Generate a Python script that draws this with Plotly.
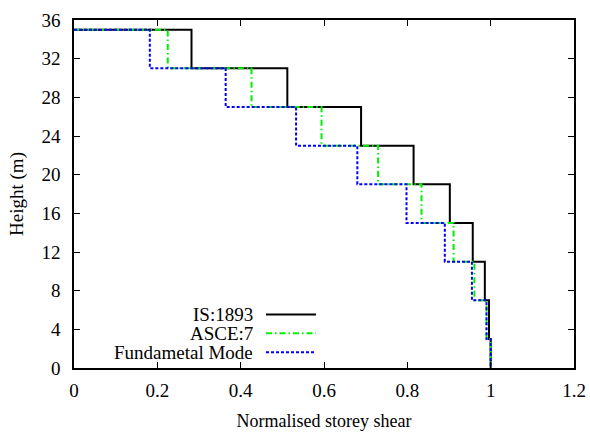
import plotly.graph_objects as go

# Storey levels (m), from roof down to base
heights = [35, 31, 27, 23, 19, 15, 11, 7, 3, 0]

# Normalised storey shear in each storey, top storey first
is1893 = [0.282, 0.512, 0.689, 0.815, 0.902, 0.957, 0.986, 0.996, 1.0]
asce7 = [0.225, 0.426, 0.594, 0.730, 0.834, 0.911, 0.961, 0.990, 1.0]
fund_mode = [0.182, 0.364, 0.533, 0.680, 0.798, 0.890, 0.955, 0.990, 1.0]

series_names = ["IS:1893", "ASCE:7", "Fundametal Mode"]
series_vals = [is1893, asce7, fund_mode]
series_colors = ["#000000", "#00ee00", "#0000ff"]
series_dash = ["solid", "6px,3px,1.5px,3px", "3px,2px"]

x_ticks = [0, 0.2, 0.4, 0.6, 0.8, 1, 1.2]
x_tick_text = ["0", "0.2", "0.4", "0.6", "0.8", "1", "1.2"]
y_ticks = list(range(0, 37, 4))

FONT = "'Liberation Serif', serif"

fig = go.Figure()
for name, vals, col, dash in zip(series_names, series_vals, series_colors, series_dash):
    fig.add_trace(go.Scatter(
        x=[0] + vals, y=heights, mode="lines", name=name,
        line=dict(color=col, width=2, dash=dash, shape="hv"),
        showlegend=False,
    ))

# Key in the lower left: right-aligned text followed by a line sample
key_rows = [0.154, 0.0997, 0.045]
for name, col, dash, yy in zip(series_names, series_colors, series_dash, key_rows):
    fig.add_annotation(x=0.36, y=yy, xref="paper", yref="paper", text=name,
                       showarrow=False, xanchor="right", yanchor="middle",
                       font=dict(family=FONT, size=19, color="black"),
                       borderpad=0, height=18, valign="middle")
    fig.add_shape(type="line", xref="paper", yref="paper",
                  x0=0.384, x1=0.484, y0=yy, y1=yy,
                  line=dict(color=col, width=2, dash=dash))

axis_common = dict(
    showline=True, linecolor="black", linewidth=1.5, mirror="ticks",
    ticks="inside", ticklen=6, tickwidth=1, tickcolor="black",
    showgrid=False, zeroline=False, automargin=False,
    tickfont=dict(family=FONT, size=19, color="black"),
)

fig.update_xaxes(range=[0, 1.2], tickvals=x_ticks, ticktext=x_tick_text,
                 ticklabelstandoff=4,
                 title=dict(text="Normalised storey shear", standoff=15,
                            font=dict(family=FONT, size=18, color="black")),
                 **axis_common)
fig.update_yaxes(range=[0, 36], tickvals=y_ticks,
                 ticklabelstandoff=8,
                 title=dict(text="Height (m)", standoff=13,
                            font=dict(family=FONT, size=19, color="black")),
                 **axis_common)

fig.update_layout(
    width=590, height=433,
    margin=dict(l=74, r=16, t=20, b=65),
    plot_bgcolor="white", paper_bgcolor="white",
)

fig.write_html("out.html")
